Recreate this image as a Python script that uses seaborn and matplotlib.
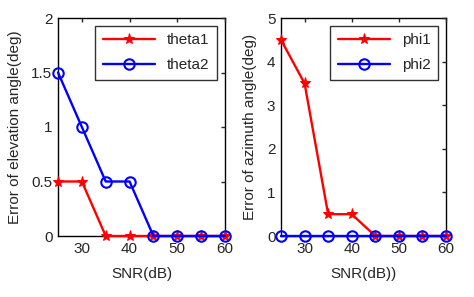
#!/usr/bin/env python3
# plot.py - elevation / azimuth error vs SNR

import pandas as pd
import matplotlib
matplotlib.use("Agg")
import matplotlib.pyplot as plt
import seaborn as sns

sns.set_theme(style="white")
plt.rcParams["font.family"] = ["Liberation Sans", "DejaVu Sans"]

# 1. Data
snr = [25, 30, 35, 40, 45, 50, 55, 60]
theta1 = [0.5, 0.5, 0, 0, 0, 0, 0, 0]
theta2 = [1.5, 1.0, 0.5, 0.5, 0, 0, 0, 0]
phi1 = [4.5, 3.5, 0.5, 0.5, 0, 0, 0, 0]
phi2 = [0, 0, 0, 0, 0, 0, 0, 0]

def long_df(names, series):
    rows = []
    for n, s in zip(names, series):
        for x, y in zip(snr, s):
            rows.append({"SNR": x, "err": y, "series": n})
    return pd.DataFrame(rows)

df_theta = long_df(["theta1", "theta2"], [theta1, theta2])
df_phi = long_df(["phi1", "phi2"], [phi1, phi2])

# 2. Plot
fig = plt.figure(figsize=(4.74, 2.97), dpi=100)
ax1 = fig.add_axes([58 / 474, 1 - 236 / 297, 167 / 474, 218 / 297])
ax2 = fig.add_axes([281 / 474, 1 - 236 / 297, 165 / 474, 218 / 297])

def draw(ax, df, names, ylim, yticks, yticklabels, ylabel, xlabel):
    sns.lineplot(
        data=df, x="SNR", y="err", hue="series",
        hue_order=names,
        palette={names[0]: "#ff0000", names[1]: "#0000ff"},
        ax=ax, linewidth=1.7, legend=False,
    )
    lines = ax.lines[:2]
    lines[0].set_marker("*")
    lines[0].set_markersize(8)
    lines[0].set_markerfacecolor("#ff0000")
    lines[0].set_markeredgecolor("#ff0000")
    lines[0].set_zorder(3)
    lines[1].set_marker("o")
    lines[1].set_markersize(7.5)
    lines[1].set_markerfacecolor("none")
    lines[1].set_markeredgecolor("#0000ff")
    lines[1].set_markeredgewidth(1.5)
    lines[1].set_zorder(4)
    for ln in lines:
        ln.set_clip_on(False)
    ax.set_xlim(25, 60)
    ax.set_ylim(*ylim)
    ax.set_xticks([30, 40, 50, 60])
    ax.set_yticks(yticks)
    ax.set_yticklabels(yticklabels)
    ax.set_xlabel(xlabel, fontsize=11, labelpad=8)
    ax.set_ylabel(ylabel, fontsize=11, labelpad=7)
    ax.tick_params(direction="in", top=True, right=True, length=3,
                   labelsize=11, width=1, pad=4)
    for sp in ax.spines.values():
        sp.set_color("black")
        sp.set_linewidth(1.0)
        sp.set_zorder(0.5)
    leg = ax.legend(lines, names, loc="upper right", fontsize=11,
                    frameon=True, fancybox=False, edgecolor="black",
                    handlelength=3.4, borderaxespad=0.5, labelspacing=0.7,
                    borderpad=0.5)
    leg.get_frame().set_linewidth(1.0)
    leg.set_zorder(5)

draw(ax1, df_theta, ["theta1", "theta2"], (0, 2), [0, 0.5, 1, 1.5, 2],
     ["0", "0.5", "1", "1.5", "2"], "Error of elevation angle(deg)", "SNR(dB)")
draw(ax2, df_phi, ["phi1", "phi2"], (0, 5), [0, 1, 2, 3, 4, 5],
     ["0", "1", "2", "3", "4", "5"], "Error of azimuth angle(deg)", "SNR(dB))")

fig.savefig("out.png", dpi=100)
plt.close(fig)
